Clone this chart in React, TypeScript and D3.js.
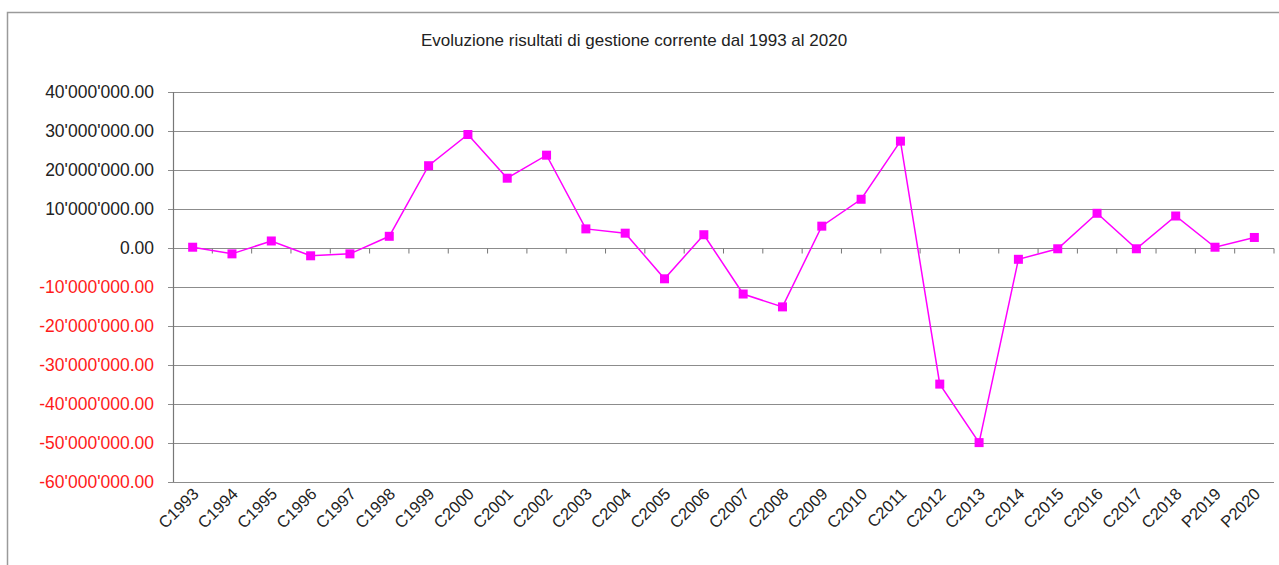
import React, { useEffect, useRef } from 'react'
import * as d3 from 'd3'

const categories = ['C1993', 'C1994', 'C1995', 'C1996', 'C1997', 'C1998', 'C1999', 'C2000', 'C2001', 'C2002',
  'C2003', 'C2004', 'C2005', 'C2006', 'C2007', 'C2008', 'C2009', 'C2010', 'C2011', 'C2012',
  'C2013', 'C2014', 'C2015', 'C2016', 'C2017', 'C2018', 'P2019', 'P2020']

// risultati in milioni
const results = [0.2, -1.5, 1.8, -2.0, -1.5, 3.0, 21.1, 29.1, 17.9, 23.8,
  4.9, 3.8, -7.9, 3.4, -11.8, -15.1, 5.6, 12.5, 27.4, -34.9,
  -49.9, -2.9, -0.2, 8.9, -0.2, 8.2, 0.2, 2.7]

const yTicks = [40, 30, 20, 10, 0, -10, -20, -30, -40, -50, -60]

const title = 'Evoluzione risultati di gestione corrente dal 1993 al 2020'

const W = 1279
const H = 565
const left = 173
const right = 1274
const top = 92
const bottom = 482
const font = '"Liberation Sans", Arial, sans-serif'

function fmt(v: number) {
  if (v === 0) return '0.00'
  const s = Math.abs(v) + "'000'000.00"
  return (v < 0 ? '-' : '') + s
}

export default function App() {
  const svgRef = useRef<SVGSVGElement>(null)

  useEffect(() => {
    const svg = d3.select(svgRef.current)
    svg.selectAll('*').remove()

    const x = d3.scaleBand().domain(categories).range([left, right])
    const y = d3.scaleLinear().domain([-60, 40]).range([bottom, top])

    // cornice
    svg.append('path')
      .attr('d', `M7.5,${H} L7.5,12.5 L${W},12.5`)
      .attr('fill', 'none')
      .attr('stroke', '#9a9a9a')
      .attr('stroke-width', 1.5)

    svg.append('text')
      .attr('x', 634)
      .attr('y', 46)
      .attr('text-anchor', 'middle')
      .style('font-family', font)
      .style('font-size', '17px')
      .attr('fill', '#222')
      .text(title)

    // griglia
    svg.append('g')
      .selectAll('line')
      .data(yTicks)
      .join('line')
      .attr('x1', left - 5)
      .attr('x2', right)
      .attr('y1', d => Math.round(y(d)) + 0.5)
      .attr('y2', d => Math.round(y(d)) + 0.5)
      .attr('stroke', '#8c8c8c')
      .attr('stroke-width', 1.2)

    svg.append('line')
      .attr('x1', left + 0.5).attr('x2', left + 0.5)
      .attr('y1', top).attr('y2', bottom)
      .attr('stroke', '#777')
      .attr('stroke-width', 1.2)

    svg.append('g')
      .selectAll('text')
      .data(yTicks)
      .join('text')
      .attr('x', left - 19)
      .attr('y', d => y(d))
      .attr('dy', '0.36em')
      .attr('text-anchor', 'end')
      .style('font-family', font)
      .style('font-size', '17.5px')
      .attr('fill', d => (d < 0 ? '#ff1a1a' : '#222'))
      .text(d => fmt(d))

    // asse x sullo zero
    const y0 = Math.round(y(0)) + 0.5
    svg.append('g')
      .selectAll('line')
      .data(categories.slice(1).concat(['end']))
      .join('line')
      .attr('x1', (d, i) => left + x.step() * (i + 1))
      .attr('x2', (d, i) => left + x.step() * (i + 1))
      .attr('y1', y0)
      .attr('y2', y0 + 5)
      .attr('stroke', '#777')

    svg.append('g')
      .selectAll('text')
      .data(categories)
      .join('text')
      .attr('transform', d => `translate(${x(d)! + x.bandwidth() / 2 + 7},${bottom + 13}) rotate(-45)`)
      .attr('text-anchor', 'end')
      .style('font-family', font)
      .style('font-size', '16.5px')
      .attr('fill', '#222')
      .text(d => d)

    const line = d3.line<number>()
      .x((d, i) => x(categories[i])! + x.bandwidth() / 2)
      .y(d => y(d))

    svg.append('path')
      .datum(results)
      .attr('d', line)
      .attr('fill', 'none')
      .attr('stroke', '#ff00ff')
      .attr('stroke-width', 1.5)

    svg.append('g')
      .selectAll('rect')
      .data(results)
      .join('rect')
      .attr('x', (d, i) => x(categories[i])! + x.bandwidth() / 2 - 4.5)
      .attr('y', d => y(d) - 4.5)
      .attr('width', 9)
      .attr('height', 9)
      .attr('fill', '#ff00ff')
  }, [])

  return (
    <div style={{ position: 'absolute', left: 0, top: 0, background: '#fff' }}>
      <svg ref={svgRef} width={W} height={H} style={{ display: 'block' }} />
    </div>
  )
}
